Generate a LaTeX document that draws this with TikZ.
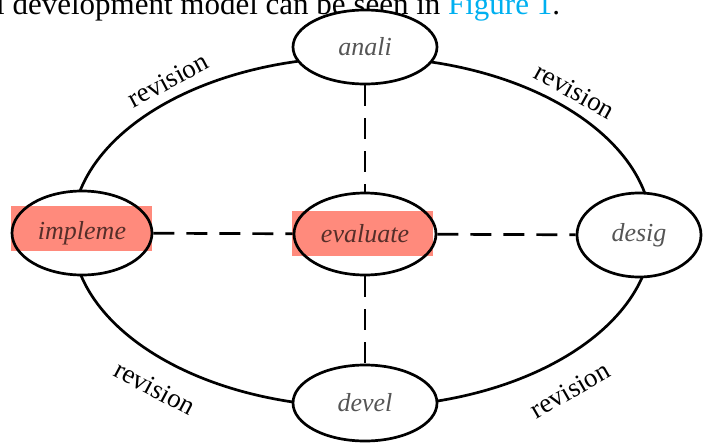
\documentclass[tikz,border=0pt]{standalone}
\usepackage{fontspec}
\setmainfont{Liberation Serif}
\usetikzlibrary{shapes.geometric}
\definecolor{hlred}{RGB}{255,138,124}
\definecolor{lblgray}{RGB}{85,85,85}
\definecolor{figcyan}{RGB}{0,176,240}
\tikzset{
  phase/.style={draw=black, line width=2.7pt, fill=white, ellipse, inner sep=0pt,
    font=\fontsize{26}{29}\selectfont\itshape, text=lblgray},
  dashlink/.style={line width=2.7pt, dash pattern=on 21pt off 12pt},
  revlabel/.style={font=\fontsize{27}{30}\selectfont, text=black, inner sep=0pt},
  highlight/.style={fill=hlred, blend mode=multiply},
}
\begin{document}
\begin{tikzpicture}[x=1pt,y=-1pt]
\useasboundingbox (0,0) rectangle (709,442);
\clip (0,0) rectangle (709,442);
% caption line (cut at top)
\node[anchor=base west, inner sep=0pt, font=\fontsize{31}{34}\selectfont] (cap) at (-4,14)
  {l development model can be seen in \textcolor{figcyan}{Figure 1}.};
% big cycle
\node[draw=black, line width=2.7pt, ellipse, minimum width=580pt, minimum height=350pt, inner sep=0pt] (cycle) at (362,232) {};
% phases
\node[phase, minimum width=144pt, minimum height=74pt] (anali) at (365,47) {anali};
\node[phase, minimum width=142pt, minimum height=82pt] (eval) at (365,234) {evaluate};
\node[phase, minimum width=140pt, minimum height=84pt] (impl) at (82,233) {impleme};
\node[phase, minimum width=124pt, minimum height=84pt] (desig) at (639,235) {desig};
\node[phase, minimum width=144pt, minimum height=76pt] (devel) at (365,403) {devel};
% dashed links
\draw[dashlink] (anali) -- (eval);
\draw[dashlink] (eval) -- (devel);
\draw[dashlink] (impl) -- (eval);
\draw[dashlink] (eval) -- (desig);
% revision labels
\node[revlabel, rotate=28] (rev1) at (168,80) {revision};
\node[revlabel, rotate=-29] (rev2) at (575,91) {revision};
\node[revlabel, rotate=-28] (rev3) at (155,388) {revision};
\node[revlabel, rotate=30] (rev4) at (570,390) {revision};
% highlights
\fill[highlight] (11,206) rectangle (152,251);
\fill[highlight] (292,211) rectangle (433,256);
\end{tikzpicture}
\end{document}
